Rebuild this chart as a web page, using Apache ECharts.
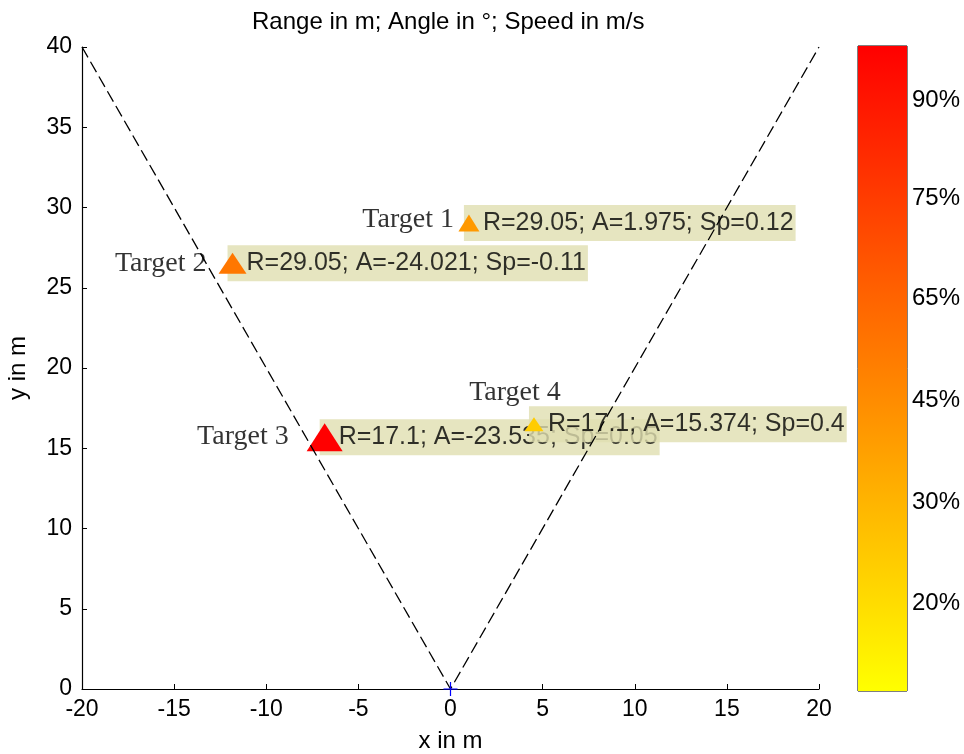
<!DOCTYPE html>
<html>
<head>
<meta charset="utf-8">
<script src="https://cdn.jsdelivr.net/npm/echarts@6/dist/echarts.min.js"></script>
<style>html,body{margin:0;padding:0;background:#fff;overflow:hidden}#c{width:964px;height:754px}</style>
</head>
<body>
<div id="c"></div>
<script>
// ---- data ----
var targetNames = ['Target 1', 'Target 2', 'Target 3', 'Target 4'];
var targetX = [1.00, -11.83, -6.83, 4.53];
var targetY = [29.03, 26.53, 15.68, 16.49];
var targetR = ['29.05', '29.05', '17.1', '17.1'];
var targetA = ['1.975', '-24.021', '-23.535', '15.374'];
var targetSp = ['0.12', '-0.11', '0.05', '0.4'];
var fovX = [-20, 0, 20];
var fovY = [40, 0, 40];
var xTicks = [-20, -15, -10, -5, 0, 5, 10, 15, 20];
var yTicks = [0, 5, 10, 15, 20, 25, 30, 35, 40];
var cbTickPos = [0.136, 0.292, 0.45, 0.608, 0.763, 0.916];
var cbTickLabels = ['20%', '30%', '45%', '65%', '75%', '90%'];

// ---- styles ----
var markerStyles = [
  {color: '#ff9900', size: [21, 17]},
  {color: '#ff7700', size: [28, 21]},
  {color: '#ff0000', size: [36, 28]},
  {color: '#ffcc00', size: [19, 14]}
];
var nameLabelStyles = [
  {position: 'left', distance: 15, offset: [0, -3]},
  {position: 'left', distance: 26, offset: [0, 0]},
  {position: 'left', distance: 36, offset: [0, -1]},
  {position: 'top', distance: 18, offset: [-19, 0]}
];
var SANS = 'Liberation Sans, Arial, sans-serif';
var SERIF = 'Liberation Serif, Times New Roman, serif';

var chart = echarts.init(document.getElementById('c'));

var fovData = fovX.map(function (x, i) { return [x, fovY[i]]; });
var markerData = targetX.map(function (x, i) {
  return {value: [x, targetY[i]], symbolSize: markerStyles[i].size,
          itemStyle: {color: markerStyles[i].color, opacity: 1}};
});
var infoData = targetX.map(function (x, i) {
  return {value: [x, targetY[i]],
          label: {formatter: 'R=' + targetR[i] + '; A=' + targetA[i] + '; Sp=' + targetSp[i]}};
});
var nameData = targetX.map(function (x, i) {
  var s = nameLabelStyles[i];
  return {value: [x, targetY[i]],
          label: {formatter: targetNames[i], position: s.position, distance: s.distance, offset: s.offset}};
});

var axisCommon = {
  axisLine: {show: true, onZero: false, lineStyle: {color: '#000', width: 1.2}},
  axisTick: {show: true, inside: true, length: 5, lineStyle: {color: '#000'}},
  splitLine: {show: false}
};

chart.setOption({
  animation: false,
  backgroundColor: '#fff',
  title: {
    text: 'Range in m; Angle in °; Speed in m/s',
    left: 247, top: 5,
    textStyle: {fontFamily: SANS, fontSize: 24, fontWeight: 'normal', color: '#000'}
  },
  grid: [
    {left: 82, width: 737, top: 47, height: 642, containLabel: false, outerBoundsMode: 'none'},
    {left: 858, width: 49, top: 46, height: 645, show: true, borderColor: '#000', borderWidth: 1,
     backgroundColor: 'transparent', containLabel: false, outerBoundsMode: 'none'}
  ],
  xAxis: [
    Object.assign({}, axisCommon, {
      gridIndex: 0, type: 'value', min: xTicks[0], max: xTicks[xTicks.length - 1], interval: 5,
      name: 'x in m', nameLocation: 'middle', nameGap: 40,
      nameTextStyle: {fontFamily: SANS, fontSize: 24, color: '#000'},
      axisLabel: {color: '#000', fontFamily: SANS, fontSize: 23, margin: 9}
    }),
    {gridIndex: 1, type: 'category', data: ['c'], show: false, boundaryGap: true}
  ],
  yAxis: [
    Object.assign({}, axisCommon, {
      gridIndex: 0, type: 'value', min: yTicks[0], max: yTicks[yTicks.length - 1], interval: 5,
      name: 'y in m', nameLocation: 'middle', nameGap: 52, nameRotate: 90,
      nameTextStyle: {fontFamily: SANS, fontSize: 24, color: '#000'},
      axisLabel: {color: '#000', fontFamily: SANS, fontSize: 23, margin: 10}
    }),
    {
      gridIndex: 1, type: 'value', min: 0, max: 1, position: 'right',
      axisLine: {show: false},
      splitLine: {show: false},
      axisTick: {show: true, inside: true, length: 5, lineStyle: {color: '#000'}, customValues: cbTickPos},
      axisLabel: {show: true, color: '#000', fontFamily: SANS, fontSize: 24, margin: 5, customValues: cbTickPos,
        formatter: function (v) {
          for (var i = 0; i < cbTickPos.length; i++) { if (Math.abs(cbTickPos[i] - v) < 1e-6) return cbTickLabels[i]; }
          return '';
        }}
    },
    {
      gridIndex: 1, type: 'value', min: 0, max: 1, position: 'left',
      axisLine: {show: false},
      splitLine: {show: false},
      axisTick: {show: true, inside: true, length: 5, lineStyle: {color: '#000'}, customValues: cbTickPos},
      axisLabel: {show: false}
    }
  ],
  series: [
    {
      type: 'bar', xAxisIndex: 1, yAxisIndex: 1, data: [1], barWidth: '100%', silent: true,
      itemStyle: {color: new echarts.graphic.LinearGradient(0, 0, 0, 1, [
        {offset: 0, color: '#ff0000'}, {offset: 1, color: '#ffff00'}])}
    },
    {
      type: 'scatter', xAxisIndex: 0, yAxisIndex: 0, z: 2, symbolSize: 0, data: infoData,
      label: {show: true, position: 'right', distance: -5, color: '#000', fontFamily: SANS, fontSize: 25,
        lineHeight: 28, backgroundColor: '#e0dfb0', padding: [4, 2, 4, 19]}
    },
    {
      type: 'scatter', xAxisIndex: 0, yAxisIndex: 0, z: 2, symbolSize: 0, data: nameData,
      label: {show: true, color: '#000', fontFamily: SERIF, fontSize: 28}
    },
    {
      type: 'scatter', xAxisIndex: 0, yAxisIndex: 0, z: 3, symbol: 'triangle', data: markerData
    },
    {
      type: 'line', xAxisIndex: 0, yAxisIndex: 0, z: 4, data: fovData, showSymbol: false, symbol: 'none',
      lineStyle: {color: '#000', width: 1.3, type: [12, 5]}
    },
    {
      type: 'scatter', xAxisIndex: 0, yAxisIndex: 0, z: 5, data: [[0, 0]], symbolSize: 14,
      symbol: 'path://M0,5L10,5M5,0L5,10',
      itemStyle: {color: 'none', borderColor: '#0000ff', borderWidth: 1.2, opacity: 1}
    }
  ]
});
</script>
</body>
</html>
